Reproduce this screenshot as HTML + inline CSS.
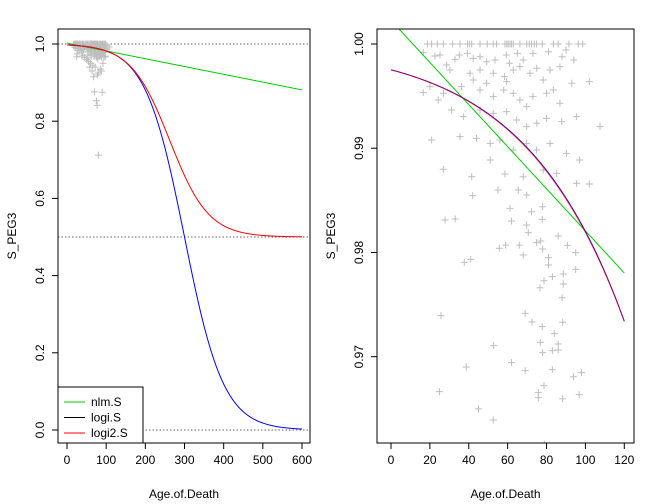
<!DOCTYPE html>
<html><head><meta charset="utf-8"><style>
html,body{margin:0;padding:0;background:#fff;width:648px;height:504px;overflow:hidden}
svg{display:block;overflow:hidden;font-family:"Liberation Sans",sans-serif}
</style></head><body>
<svg id="c" width="648" height="504" xmlns="http://www.w3.org/2000/svg"></svg>
<script>
const ages=[18.7,20.9,23.8,26.9,31.7,35.5,39.3,40.3,41.5,45.8,49.5,52.6,54.3,58.6,59.5,60.3,61.2,62,62.9,66.3,69.8,71.1,72.3,73.7,74.9,77.8,83.5,86,91.5,96.3,98.6,
16.6,22.6,25.2,32.9,35.1,39.3,42.3,45.8,49.2,53.5,59.3,60.9,65,68,73,81,88,90,94,
28.6,30.3,40.6,45.8,52.6,58.4,62.9,66.3,71.5,75,81.8,86.9,
16.6,20,24.3,27,36.3,42.3,45.8,49.2,52.6,58,59.5,62.9,66.3,69.8,73,78.3,80,83.5,86.9,93,102,
31.2,37.2,45.8,52.6,59.5,64.6,69.8,75,80,87.8,95.5,107.5,
20.9,35.5,44,51,56,62.9,69.8,74.9,81.8,90.3,97,
26.9,41.5,51,58.6,68,78.3,85.2,95.5,102,
42,55,65.5,69.8,61.2,72.3,78,27.8,33,62,69.8,77.8,86,70.6,
55.7,59,66,74.9,77,78,90.7,68,81,81,95,95,37.7,41,78.7,83,76.6,88.6,88.6,88,
25.7,69,72.5,88.3,77.8,84,76.8,86,52.8,78,83,86,62,38.7,69,83,98,93.8,78.7,24.9,75.8,75.8,88.3,96.8,52.6,78.9,
70,90,75,77,80,64,68,60,72,80,55,85,50,66,78,88,45,92,58];
const sVals=[1,1,1,1,1,1,1,1,1,1,1,1,1,1,1,1,1,1,1,1,1,1,1,1,1,1,1,1,1,1,1,
.99917,.99885,.99894,.99853,.99894,.9991,.99862,.99878,.9983,.99846,.99894,.99815,.9991,.99846,.9991,.99926,.99878,.99942,.99846,
.99799,.9975,.99719,.9975,.99719,.99687,.9975,.99783,.99719,.99767,.9975,.99783,
.99533,.99591,.99463,.99527,.99591,.99655,.99559,.99623,.99495,.99559,.99639,.99527,.99463,.99399,.99495,.99655,.99527,.99559,.99431,.99623,.99639,
.99367,.99303,.99367,.99335,.99351,.99271,.99207,.9924,.99287,.99255,.99303,.99207,
.99079,.99111,.99095,.99047,.99079,.98983,.99047,.98983,.99047,.98951,.98887,
.98798,.98727,.98887,.98753,.98727,.98791,.98759,.98663,.98657,
.98545,.98599,.98599,.98551,.98423,.98391,.98439,.98311,.98321,.98302,.98264,.98318,.98158,.9819,
.9804,.98071,.98071,.98094,.9811,.98033,.98068,.97976,.9795,.9788,.97998,.97838,.97905,.97934,.97729,.97768,.97662,.97793,.97697,.97566,
.97394,.97416,.97333,.9733,.97288,.97221,.97138,.97122,.97106,.97039,.97058,.97064,.96943,.96901,.96866,.96876,.96847,.96808,.96722,.96665,.96655,.96607,.96597,.96636,.96393,.96162,
.876,.875,.853,.841,.712,.93,.915,.95,.94,.925,.955,.935,.96,.945,.92,.93,.965,.95,.94];
const leftXTicks=[0,100,200,300,400,500,600];
const leftYTicks=[0,0.2,0.4,0.6,0.8,1.0];
const leftYLabels=["0.0","0.2","0.4","0.6","0.8","1.0"];
const rightXTicks=[0,20,40,60,80,100,120];
const rightYTicks=[0.97,0.98,0.99,1.00];
const rightYLabels=["0.97","0.98","0.99","1.00"];
const hLines=[0,0.5,1];
const nlmA=1.00227, nlmB=0.000202;
const logiM=300, logiS=50, logi2M=262.4, logi2S=49.48;
const seriesNames=["nlm.S","logi.S","logi2.S"];
const seriesColors=["#00cd00","#0000ff","#ff0000"];
const legendColors=["#00cd00","#000000","#ff0000"];

const svg=document.getElementById('c');
const NS="http://www.w3.org/2000/svg";
function mk(t,a,p){const e=document.createElementNS(NS,t);for(const k in a)e.setAttribute(k,a[k]);(p||svg).appendChild(e);return e;}
const fNlm=a=>nlmA-nlmB*a;
const fLogi=a=>1/(1+Math.exp((a-logiM)/logiS));
const fLogi2=a=>0.5+0.5/(1+Math.exp((a-logi2M)/logi2S));
const funcs=[fNlm,fLogi,fLogi2];

function panel(o){
  const g=mk('g',{});
  
  
  const X=v=>o.x0+(v-o.xmin)*(o.x1-o.x0)/(o.xmax-o.xmin);
  const Y=v=>o.y0+(v-o.ymin)*(o.y1-o.y0)/(o.ymax-o.ymin);
  const cid='clip'+o.name;
  const cp=mk('clipPath',{id:cid},g);
  mk('rect',{x:o.bx0,y:o.by0,width:o.bx1-o.bx0,height:o.by1-o.by0},cp);
  const pg=mk('g',{'clip-path':'url(#'+cid+')'},g);
  if(o.hl) hLines.forEach(h=>{const l=mk('line',{x1:o.bx0,x2:o.bx1,y1:Y(h),y2:Y(h),stroke:'#333','stroke-width':0.8,'stroke-dasharray':'1.5,2'},pg);
    
    });
  ages.forEach((a,i)=>{const x=X(a),y=Y(sVals[i]);
    const p=mk('path',{d:`M${x-3.5},${y}h7M${x},${y-3.5}v7`,stroke:'#bebebe','stroke-width':1,fill:'none'},pg);
    
    });
  funcs.forEach((f,k)=>{let d='';for(let i=0;i<=300;i++){const a=o.xmin+(o.xmax-o.xmin)*i/300;d+=(i?'L':'M')+X(a).toFixed(2)+','+Y(f(a)).toFixed(2);}
    const p=mk('path',{d:d,stroke:seriesColors[k],fill:'none','stroke-width':1,'stroke-opacity':(k==2&&o.name=='right-panel')?0.65:1},pg);
    
    });
  mk('rect',{x:o.bx0,y:o.by0,width:o.bx1-o.bx0,height:o.by1-o.by0,fill:'none',stroke:'#000','stroke-width':1},g);
  const xa=mk('g',{},g);
  
  
  mk('line',{x1:X(o.xt[0]),x2:X(o.xt[o.xt.length-1]),y1:o.by1,y2:o.by1,stroke:'#000'},xa);
  o.xt.forEach(t=>{mk('line',{x1:X(t),x2:X(t),y1:o.by1,y2:o.by1+6,stroke:'#000'},xa);
    const tx=mk('text',{x:X(t),y:o.by1+21,'font-size':12,'text-anchor':'middle'},xa);tx.textContent=t;});
  const ya=mk('g',{},g);
  
  
  mk('line',{x1:o.bx0,x2:o.bx0,y1:Y(o.yt[0]),y2:Y(o.yt[o.yt.length-1]),stroke:'#000'},ya);
  o.yt.forEach((t,i)=>{mk('line',{x1:o.bx0-6,x2:o.bx0,y1:Y(t),y2:Y(t),stroke:'#000'},ya);
    const tx=mk('text',{x:o.bx0-14,y:Y(t),'font-size':12,'text-anchor':'middle',transform:`rotate(-90 ${o.bx0-14} ${Y(t)})`},ya);tx.textContent=o.yl[i];});
  const xt=mk('text',{x:(o.bx0+o.bx1)/2,y:498,'font-size':12,'text-anchor':'middle'},g);xt.textContent='Age.of.Death';
  
  
  const yx=o.bx0-42,yy=(o.by0+o.by1)/2;
  const yt=mk('text',{x:yx,y:yy,'font-size':12,'text-anchor':'middle',transform:`rotate(-90 ${yx} ${yy})`},g);yt.textContent='S_PEG3';
  
  
}
panel({name:'left-panel',bx0:58,bx1:310,by0:29,by1:443,xmin:0,xmax:600,x0:67,x1:302,ymin:0,ymax:1,y0:430,y1:44,xt:leftXTicks,yt:leftYTicks,yl:leftYLabels,hl:true});
panel({name:'right-panel',bx0:377,bx1:634,by0:29,by1:443,xmin:0,xmax:120,x0:391,x1:624.3,ymin:0.97,ymax:1.0,y0:356.7,y1:44,xt:rightXTicks,yt:rightYTicks,yl:rightYLabels,hl:false});

const lg=mk('g',{});


mk('rect',{x:58,y:387,width:85,height:56,fill:'#fff',stroke:'#000'},lg);
seriesNames.forEach((n,i)=>{const y=402+i*15.5;
  const e=mk('g',{},lg);
  
  
  mk('line',{x1:64,x2:85,y1:y,y2:y,stroke:legendColors[i]},e);
  const t=mk('text',{x:91,y:y+4,'font-size':12},e);t.textContent=n;});
</script>
</body></html>
